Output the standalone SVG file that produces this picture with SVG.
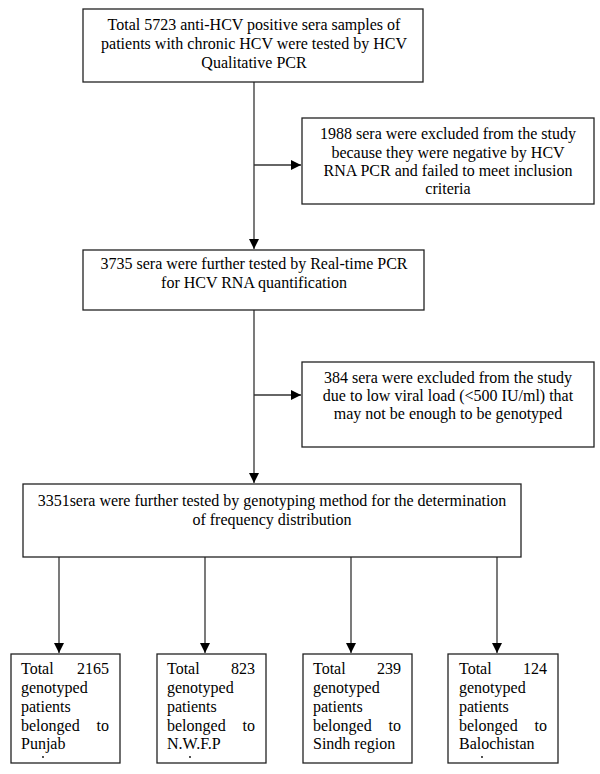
<svg xmlns="http://www.w3.org/2000/svg" width="600" height="774" viewBox="0 0 600 774">
<style>
.box{fill:#fff;stroke:#222;stroke-width:1.3}
.t{font-family:"Liberation Serif","Times New Roman",serif;font-size:16px;fill:#000}
.c{text-anchor:middle}
.e{text-anchor:end}
.ln{stroke:#333;stroke-width:1.3;fill:none}
</style>
<defs>
<marker id="ah" markerUnits="userSpaceOnUse" markerWidth="11" markerHeight="11" refX="10" refY="5" orient="auto">
<path d="M0,0 L10,5 L0,10 z" fill="#000"/>
</marker>
</defs>
<rect width="600" height="774" fill="#fff"/>
<g id="connectors">
<line class="ln" x1="254" y1="82" x2="254" y2="249" marker-end="url(#ah)"/>
<line class="ln" x1="254" y1="165" x2="301" y2="165" marker-end="url(#ah)"/>
<line class="ln" x1="254" y1="310" x2="254" y2="483" marker-end="url(#ah)"/>
<line class="ln" x1="254" y1="395" x2="301" y2="395" marker-end="url(#ah)"/>
<line class="ln" x1="59" y1="557" x2="59" y2="653" marker-end="url(#ah)"/>
<line class="ln" x1="205" y1="557" x2="205" y2="653" marker-end="url(#ah)"/>
<line class="ln" x1="351" y1="557" x2="351" y2="653" marker-end="url(#ah)"/>
<line class="ln" x1="497" y1="557" x2="497" y2="653" marker-end="url(#ah)"/>
</g>
<g id="n1">
<rect class="box" x="83" y="9" width="340" height="73"/>
<text class="t c" x="254" y="30">Total 5723 anti-HCV positive sera samples of</text>
<text class="t c" x="254" y="49">patients with chronic HCV were tested by HCV</text>
<text class="t c" x="254" y="68">Qualitative PCR</text>
</g>
<g id="n2">
<rect class="box" x="302" y="118" width="292" height="86"/>
<text class="t c" x="448" y="139">1988 sera were excluded from the study</text>
<text class="t c" x="448" y="158">because they were negative by HCV</text>
<text class="t c" x="448" y="176">RNA PCR and failed to meet inclusion</text>
<text class="t c" x="448" y="194">criteria</text>
</g>
<g id="n3">
<rect class="box" x="83" y="250" width="341" height="60"/>
<text class="t c" x="254" y="269">3735 sera were further tested by Real-time PCR</text>
<text class="t c" x="254" y="288">for HCV RNA quantification</text>
</g>
<g id="n4">
<rect class="box" x="302" y="362" width="292" height="85"/>
<text class="t c" x="448" y="383">384 sera were excluded from the study</text>
<text class="t c" x="448" y="401">due to low viral load (&lt;500 IU/ml) that</text>
<text class="t c" x="448" y="419">may not be enough to be genotyped</text>
</g>
<g id="n5">
<rect class="box" x="23" y="484" width="498" height="73"/>
<text class="t c" x="272" y="506">3351sera were further tested by genotyping method for the determination</text>
<text class="t c" x="272" y="525">of frequency distribution</text>
</g>
<g id="n6">
<rect class="box" x="11" y="654" width="109" height="109"/>
<text class="t" x="21" y="674">Total</text><text class="t e" x="109" y="674">2165</text>
<text class="t" x="21" y="693">genotyped</text>
<text class="t" x="21" y="712">patients</text>
<text class="t" x="21" y="731">belonged</text><text class="t e" x="109" y="731">to</text>
<text class="t" x="21" y="749">Punjab</text>
<circle cx="43" cy="757" r="0.9" fill="#000"/>
</g>
<g id="n7">
<rect class="box" x="157" y="654" width="109" height="109"/>
<text class="t" x="167" y="674">Total</text><text class="t e" x="255" y="674">823</text>
<text class="t" x="167" y="693">genotyped</text>
<text class="t" x="167" y="712">patients</text>
<text class="t" x="167" y="731">belonged</text><text class="t e" x="255" y="731">to</text>
<text class="t" x="167" y="749">N.W.F.P</text>
<circle cx="190" cy="757" r="0.9" fill="#000"/>
</g>
<g id="n8">
<rect class="box" x="303" y="654" width="109" height="109"/>
<text class="t" x="313" y="674">Total</text><text class="t e" x="401" y="674">239</text>
<text class="t" x="313" y="693">genotyped</text>
<text class="t" x="313" y="712">patients</text>
<text class="t" x="313" y="731">belonged</text><text class="t e" x="401" y="731">to</text>
<text class="t" x="313" y="749">Sindh region</text>
</g>
<g id="n9">
<rect class="box" x="448" y="654" width="110" height="109"/>
<text class="t" x="459" y="674">Total</text><text class="t e" x="547" y="674">124</text>
<text class="t" x="459" y="693">genotyped</text>
<text class="t" x="459" y="712">patients</text>
<text class="t" x="459" y="731">belonged</text><text class="t e" x="547" y="731">to</text>
<text class="t" x="459" y="749">Balochistan</text>
<circle cx="482" cy="757" r="0.9" fill="#000"/>
</g>
</svg>
